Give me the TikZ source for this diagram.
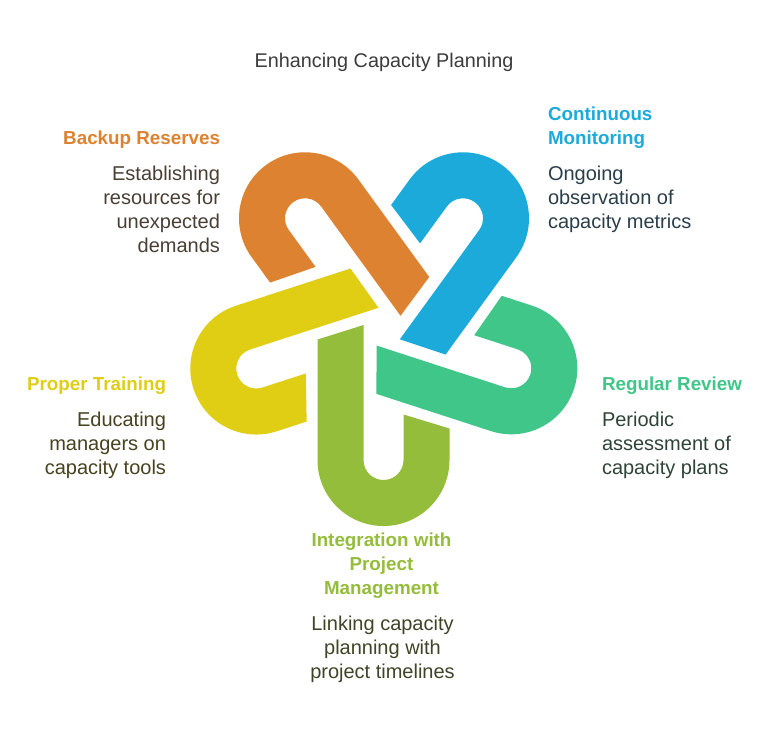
\documentclass[tikz,border=0pt]{standalone}
\usepackage{fontspec}
\setmainfont{Liberation Sans}
\definecolor{corange}{HTML}{DD8230}
\definecolor{cblue}{HTML}{1CAADB}
\definecolor{cteal}{HTML}{3FC688}
\definecolor{cyellow}{HTML}{E0CE14}
\definecolor{colive}{HTML}{95BD3C}
\definecolor{torange}{HTML}{4A3F35}
\definecolor{tblue}{HTML}{2A3F4A}
\definecolor{tteal}{HTML}{2F4439}
\definecolor{tyellow}{HTML}{47421F}
\definecolor{tolive}{HTML}{3F4527}
\definecolor{ttitle}{HTML}{3C3C3C}
\newcommand{\linkpath}{(-66,-120.5) -- (-20,-135) -- (-20,0) arc[start angle=180,end angle=360,radius=20pt] -- (20,-45.5) -- (66,-31.5) -- (66,0) arc[start angle=0,end angle=-180,radius=66pt] -- cycle}
\tikzset{
  txt/.style={inner sep=0pt,outer sep=0pt,font=\fontsize{20}{24}\selectfont},
  head/.style={txt,font=\fontsize{18.8}{24}\selectfont\bfseries},
}
\begin{document}
\begin{tikzpicture}[x=1pt,y=-1pt]
\useasboundingbox (0,0) rectangle (768,732);
\fill[white] (0,0) rectangle (768,732);
\fill[colive,shift={(383.5,460)}] \linkpath;
\fill[cyellow,shift={(256.3,368.5)},rotate=-72] \linkpath;
\fill[corange,shift={(305,218.3)},rotate=-144] \linkpath;
\fill[cblue,shift={(463,218.3)},rotate=-216] \linkpath;
\fill[cteal,shift={(511.3,368.3)},rotate=-288] \linkpath;
\node[txt,text=ttitle,font=\fontsize{19.8}{24}\selectfont] (title) at (384,62) {Enhancing Capacity Planning};
\node[head,text=corange,anchor=east] (h1) at (220,140) {Backup Reserves};
\node[txt,text=torange,anchor=east,align=right] (b1) at (220,212) {\strut Establishing\\resources for\\unexpected\\demands\strut};
\node[head,text=cblue,anchor=west,align=left] (h2) at (548,128) {\strut Continuous\\Monitoring\strut};
\node[txt,text=tblue,anchor=west,align=left] (b2) at (548,200) {\strut Ongoing\\observation of\\capacity metrics\strut};
\node[head,text=cteal,anchor=west] (h3) at (602,386) {Regular Review};
\node[txt,text=tteal,anchor=west,align=left] (b3) at (602,446) {\strut Periodic\\assessment of\\capacity plans\strut};
\node[head,text=cyellow,anchor=east] (h4) at (166,386) {Proper Training};
\node[txt,text=tyellow,anchor=east,align=right] (b4) at (166,446) {\strut Educating\\managers on\\capacity tools\strut};
\node[head,text=colive,align=center] (h5) at (381.5,566) {\strut Integration with\\Project\\Management\strut};
\node[txt,text=tolive,align=center] (b5) at (382.5,650) {\strut Linking capacity\\planning with\\project timelines\strut};
\end{tikzpicture}
\end{document}
